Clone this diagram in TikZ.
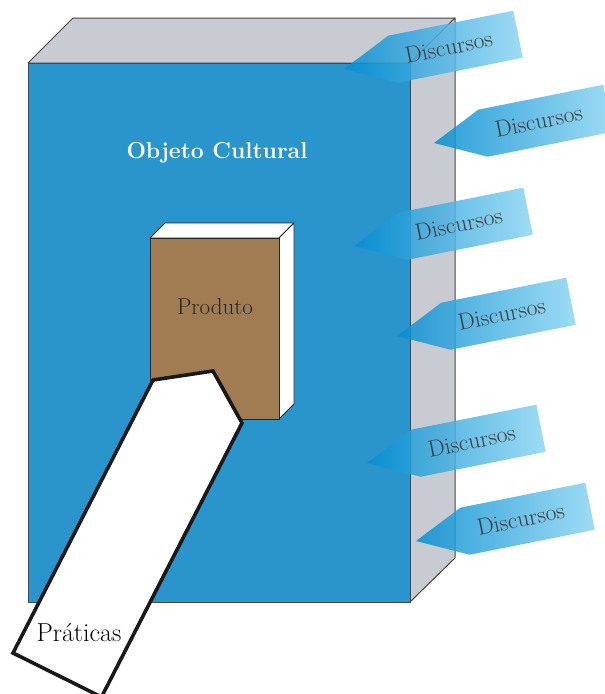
\documentclass[tikz,border=0pt]{standalone}
\usepackage{fontspec}
\setmainfont{Latin Modern Roman}
\usetikzlibrary{calc}

\definecolor{frontblue}{RGB}{42,149,204}
\definecolor{sidegray}{RGB}{200,203,210}
\definecolor{edgegray}{RGB}{70,70,72}
\definecolor{brownface}{RGB}{161,124,82}
\definecolor{tipblue}{RGB}{5,142,210}
\definecolor{midblue}{RGB}{50,167,223}
\definecolor{paleblue}{RGB}{140,213,243}
\definecolor{labelgray}{RGB}{60,60,60}

\tikzset{
  boxedge/.style={draw=edgegray, line width=1pt, line join=round},
  bookedge/.style={draw=black!85, line width=0.9pt, line join=round},
  handle/.style={draw=black!90, line width=3.6pt, fill=white, line join=miter},
  speech/.style={left color=tipblue, middle color=midblue, right color=paleblue,
                 fill opacity=0.85, draw=none},
  speechlabel/.style={text=labelgray, font=\fontsize{23.5}{28}\selectfont,
                      rotate=11.3, inner sep=0pt},
  biglabel/.style={inner sep=0pt},
}

% one "Discursos" arrow: #1 = tip position, #2 = label node name
\newcommand\discursoarrow[2]{%
  \begin{scope}[shift={(#1)}, rotate=11.3]
    \path[speech] (0,0) -- (50,-24) -- (177.5,-24) -- (177.5,24) -- (50,24) -- cycle;
    \node[speechlabel] (#2) at (107,-1) {Discursos};
  \end{scope}%
}

\begin{document}
\begin{tikzpicture}[x=1pt, y=-1pt]
  \useasboundingbox (0,0) rectangle (605,694);

  % cultural object: a box seen in perspective
  \path[boxedge, fill=sidegray] (28,63) -- (73,18) -- (455,18) -- (410,63) -- cycle;
  \path[boxedge, fill=sidegray] (410,63) -- (455,18) -- (455,558) -- (410,602) -- cycle;
  \path[boxedge, fill=frontblue] (28,63) rectangle (410,602);
  \node[biglabel, text=white, font=\fontsize{23}{27}\selectfont\bfseries] (objeto) at (217,153) {Objeto Cultural};

  % product: a smaller box inside
  \path[bookedge, fill=white] (150,238) -- (165,223) -- (294,223) -- (279,238) -- cycle;
  \path[bookedge, fill=white] (279,238) -- (294,223) -- (294,404) -- (279,419) -- cycle;
  \path[bookedge, fill=brownface] (150,238) rectangle (279,419);
  \node[biglabel, text=black!85, font=\fontsize{23}{27}\selectfont] (produto) at (215,307) {Produto};

  % practices: a white pointer reaching into the product
  \path[handle] (153,380) -- (213,371) -- (242,423) -- (101.5,697) -- (13,653) -- cycle;
  \node[biglabel, text=black, font=\fontsize{26}{30}\selectfont] (praticas) at (79,633) {Práticas};

  % discourses acting on the object
  \discursoarrow{344,69}{disc1}
  \discursoarrow{434,143}{disc2}
  \discursoarrow{354,246}{disc3}
  \discursoarrow{397,336}{disc4}
  \discursoarrow{367,463}{disc5}
  \discursoarrow{416,541}{disc6}
\end{tikzpicture}
\end{document}
